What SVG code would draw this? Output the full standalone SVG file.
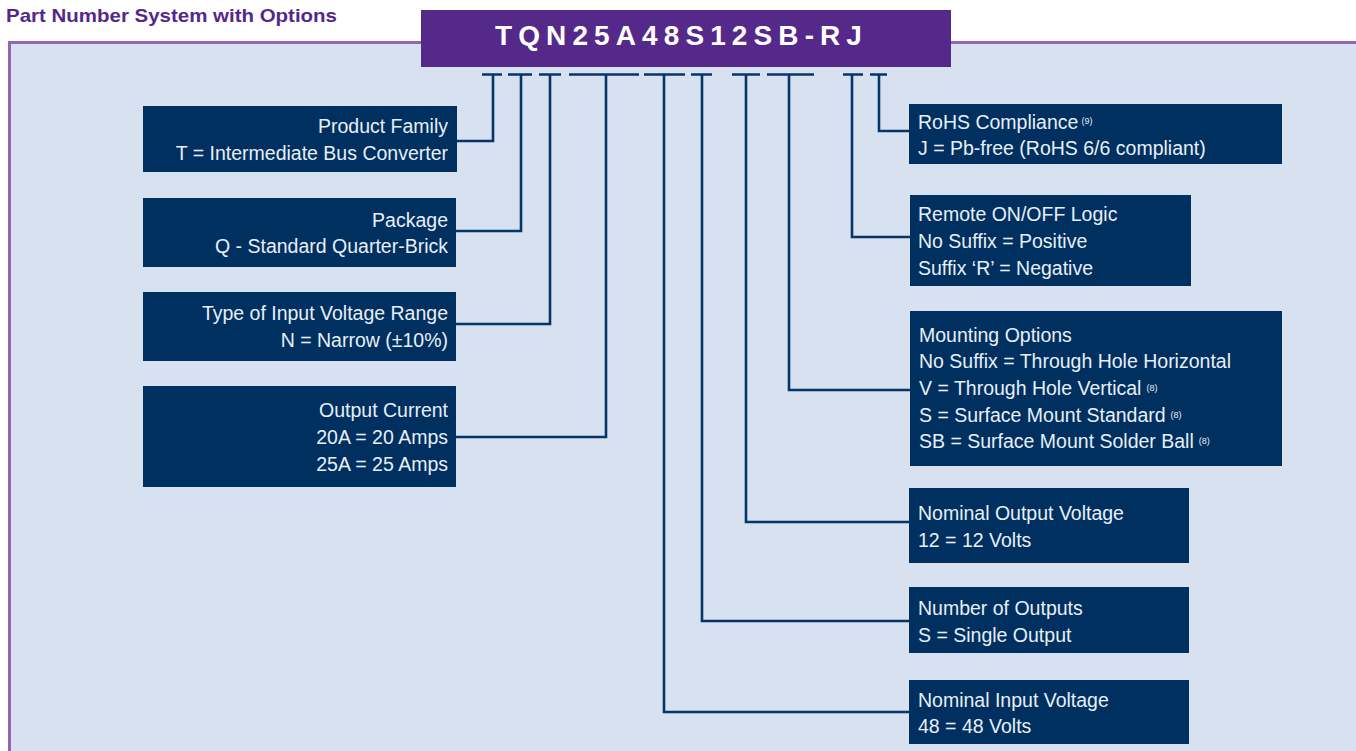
<svg xmlns="http://www.w3.org/2000/svg" width="1356" height="751" viewBox="0 0 1356 751">
<style>
.box{fill:#00305f}
.t{font-family:"Liberation Sans",Arial,sans-serif;font-size:19.5px;fill:#e8eef7}
.r{text-anchor:end}
.sup{font-size:9px}
.wire{fill:none;stroke:#06356a;stroke-width:2.6}
.title{font-family:"Liberation Sans",Arial,sans-serif;font-size:19px;font-weight:bold;fill:#54288a}
.pn{font-family:"Liberation Sans",Arial,sans-serif;font-size:28px;font-weight:bold;fill:#ffffff;letter-spacing:6.1px}
</style>
<rect x="0" y="0" width="1356" height="751" fill="#ffffff"/>
<text class="title" x="6" y="22" textLength="331" lengthAdjust="spacingAndGlyphs">Part Number System with Options</text>
<rect x="9.5" y="42.5" width="1360" height="720" fill="#d8e1f0" stroke="#9566b0" stroke-width="3"/>
<g id="header">
<rect x="421" y="10" width="530" height="57" fill="#54298a"/>
<text class="pn" x="495" y="45">TQN25A48S12SB-RJ</text>
</g>
<g id="connectors">
<path class="wire" d="M482 74.5H502 M508 74.5H532 M539 74.5H561 M569 74.5H639 M644 74.5H685 M691 74.5H712 M732 74.5H760 M767 74.5H814 M843 74.5H863 M870 74.5H887"/>
<path class="wire" d="M493 74V141H457"/>
<path class="wire" d="M521 74V231H456"/>
<path class="wire" d="M550 74V324H456"/>
<path class="wire" d="M606 74V437H456"/>
<path class="wire" d="M664 74V712H909"/>
<path class="wire" d="M702 74V621H909"/>
<path class="wire" d="M746 74V522H909"/>
<path class="wire" d="M789 74V390H910"/>
<path class="wire" d="M852 74V237H910"/>
<path class="wire" d="M879 74V131H909"/>
</g>
<g id="product-family">
<rect class="box" x="143" y="106" width="314" height="66"/>
<text class="t r" x="448" y="133">Product Family</text>
<text class="t r" x="448" y="160">T = Intermediate Bus Converter</text>
</g>
<g id="package">
<rect class="box" x="143" y="198" width="313" height="69"/>
<text class="t r" x="448" y="227">Package</text>
<text class="t r" x="448" y="253">Q - Standard Quarter-Brick</text>
</g>
<g id="input-range">
<rect class="box" x="143" y="292" width="313" height="69"/>
<text class="t r" x="448" y="320">Type of Input Voltage Range</text>
<text class="t r" x="448" y="347">N = Narrow (±10%)</text>
</g>
<g id="output-current">
<rect class="box" x="143" y="386" width="313" height="101"/>
<text class="t r" x="448" y="417">Output Current</text>
<text class="t r" x="448" y="444">20A = 20 Amps</text>
<text class="t r" x="448" y="471">25A = 25 Amps</text>
</g>
<g id="rohs">
<rect class="box" x="909" y="104" width="373" height="60"/>
<text class="t" x="918" y="129">RoHS Compliance<tspan class="sup" dx="3" dy="-5">(9)</tspan></text>
<text class="t" x="918" y="155">J = Pb-free (RoHS 6/6 compliant)</text>
</g>
<g id="remote">
<rect class="box" x="910" y="195" width="281" height="91"/>
<text class="t" x="918" y="221">Remote ON/OFF Logic</text>
<text class="t" x="918" y="248">No Suffix = Positive</text>
<text class="t" x="918" y="275">Suffix ‘R’ = Negative</text>
</g>
<g id="mounting">
<rect class="box" x="910" y="311" width="372" height="155"/>
<text class="t" x="919" y="342">Mounting Options</text>
<text class="t" x="919" y="368">No Suffix = Through Hole Horizontal</text>
<text class="t" x="919" y="395">V = Through Hole Vertical<tspan class="sup" dx="5" dy="-4">(8)</tspan></text>
<text class="t" x="919" y="422">S = Surface Mount Standard<tspan class="sup" dx="5" dy="-4">(8)</tspan></text>
<text class="t" x="919" y="448">SB = Surface Mount Solder Ball<tspan class="sup" dx="5" dy="-4">(8)</tspan></text>
</g>
<g id="output-voltage">
<rect class="box" x="909" y="488" width="280" height="75"/>
<text class="t" x="918" y="520">Nominal Output Voltage</text>
<text class="t" x="918" y="547">12 = 12 Volts</text>
</g>
<g id="outputs">
<rect class="box" x="909" y="587" width="280" height="66"/>
<text class="t" x="918" y="615">Number of Outputs</text>
<text class="t" x="918" y="642">S = Single Output</text>
</g>
<g id="input-voltage">
<rect class="box" x="909" y="680" width="280" height="64"/>
<text class="t" x="918" y="707">Nominal Input Voltage</text>
<text class="t" x="918" y="733">48 = 48 Volts</text>
</g>
</svg>
